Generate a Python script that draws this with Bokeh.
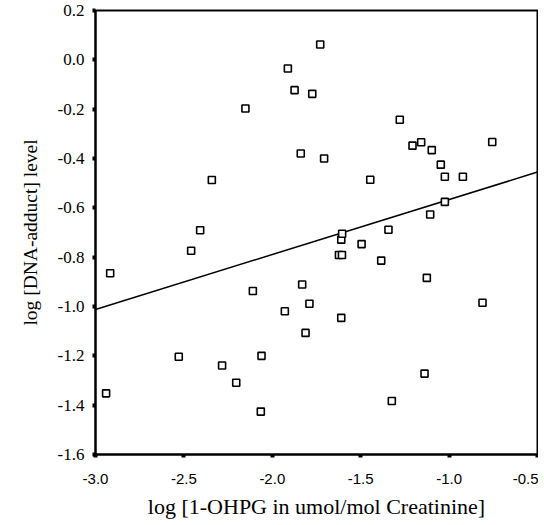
from bokeh.plotting import figure
from bokeh.models import ColumnDataSource, FixedTicker, Range1d, CustomJSTickFormatter
from bokeh.embed import file_html
from bokeh.resources import INLINE

# log [1-OHPG in umol/mol Creatinine]
ohpg = [-2.940, -2.917, -2.529, -2.459, -2.408, -2.342, -2.284, -2.204, -2.152, -2.110,
        -2.065, -2.061, -1.929, -1.912, -1.874, -1.839, -1.831, -1.812, -1.790, -1.774,
        -1.729, -1.707, -1.623, -1.606, -1.610, -1.605, -1.610, -1.495, -1.446, -1.384,
        -1.343, -1.324, -1.279, -1.207, -1.158, -1.139, -1.126, -1.107, -1.098, -1.047,
        -1.024, -1.024, -0.922, -0.811, -0.756]
# log [DNA-adduct] level
adduct = [-1.352, -0.865, -1.204, -0.774, -0.691, -0.487, -1.239, -1.309, -0.197, -0.937,
          -1.426, -1.200, -1.019, -0.035, -0.123, -0.380, -0.911, -1.107, -0.989, -0.138,
          0.062, -0.400, -0.791, -0.791, -0.729, -0.705, -1.046, -0.747, -0.486, -0.814,
          -0.689, -1.383, -0.243, -0.348, -0.334, -1.272, -0.884, -0.627, -0.366, -0.425,
          -0.474, -0.576, -0.474, -0.985, -0.333]

# regression line end points
fit_x = [-3.0, -0.5]
fit_y = [-1.012, -0.455]

x_ticks = [-3.0, -2.5, -2.0, -1.5, -1.0, -0.5]
y_ticks = [0.2, 0.0, -0.2, -0.4, -0.6, -0.8, -1.0, -1.2, -1.4, -1.6]

p = figure(width=538, height=521, output_backend="svg", toolbar_location=None,
           x_range=Range1d(-3.0, -0.5), y_range=Range1d(-1.6, 0.2),
           min_border_left=95, min_border_right=1, min_border_top=10, min_border_bottom=65)

p.background_fill_color = "white"
p.border_fill_color = "white"
p.outline_line_color = "black"
p.outline_line_width = 2
p.grid.visible = False

p.line(fit_x, fit_y, line_color="black", line_width=1.5)
src = ColumnDataSource(dict(x=ohpg, y=adduct))
p.scatter("x", "y", source=src, marker="square", size=7, fill_color="white",
          line_color="black", line_width=1.6)

for ax in (p.xaxis[0], p.yaxis[0]):
    ax.axis_line_color = "black"
    ax.axis_line_width = 2
    ax.major_tick_in = 0
    ax.major_tick_out = 3
    ax.major_tick_line_width = 4
    ax.minor_tick_line_color = None
    ax.major_label_text_color = "black"
    ax.axis_label_text_color = "black"
    ax.axis_label_text_font_style = "normal"

p.xaxis.ticker = FixedTicker(ticks=x_ticks)
p.yaxis.ticker = FixedTicker(ticks=y_ticks)
p.xaxis.formatter = CustomJSTickFormatter(code="return tick.toFixed(1);")
p.yaxis.formatter = CustomJSTickFormatter(code="return tick.toFixed(1);")

p.xaxis.major_label_text_font = "Liberation Sans"
p.xaxis.major_label_text_font_size = "15px"
p.xaxis.major_label_standoff = 16
p.xaxis.axis_label = "log [1-OHPG in umol/mol Creatinine]"
p.xaxis.axis_label_text_font = "Liberation Serif"
p.xaxis.axis_label_text_font_size = "22px"
p.xaxis.axis_label_standoff = 7

p.yaxis.major_label_text_font = "Liberation Serif"
p.yaxis.major_label_text_font_size = "17px"
p.yaxis.major_label_standoff = 8
p.yaxis.axis_label = "log [DNA-adduct] level"
p.yaxis.axis_label_text_font = "Liberation Serif"
p.yaxis.axis_label_text_font_size = "19.5px"
p.yaxis.axis_label_standoff = 14

open("out.html", "w").write(file_html(p, INLINE))
